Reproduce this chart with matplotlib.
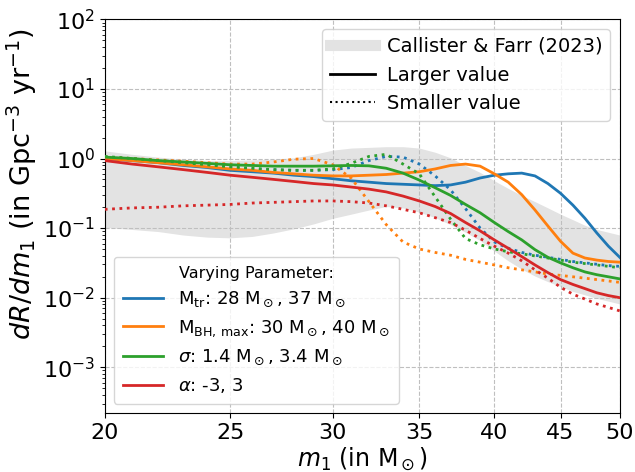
import numpy as np
import matplotlib
matplotlib.use("Agg")
import matplotlib.pyplot as plt
from matplotlib.lines import Line2D
from matplotlib.ticker import FixedLocator, NullLocator, FixedFormatter

# primary mass grid (M_sun)
m1 = np.arange(20, 51)

# log10 of dR/dm1, one value per m1
blue_hi = [0.00, -0.03, -0.06, -0.10, -0.13, -0.17, -0.19, -0.21, -0.24, -0.26, -0.29,
           -0.32, -0.34, -0.36, -0.37, -0.38, -0.39, -0.38, -0.34, -0.28, -0.24,
           -0.22, -0.21, -0.25, -0.36, -0.50, -0.67, -0.86, -1.07, -1.26, -1.42]
blue_lo = [0.02, -0.01, -0.04, -0.07, -0.10, -0.13, -0.15, -0.16, -0.17, -0.17, -0.16,
           -0.13, -0.03, 0.03, 0.02, -0.08, -0.25, -0.45, -0.72, -1.00, -1.20,
           -1.29, -1.35, -1.39, -1.42, -1.45, -1.48, -1.50, -1.52, -1.54, -1.55]
orange_hi = [0.00, -0.03, -0.06, -0.09, -0.12, -0.15, -0.17, -0.20, -0.22, -0.24, -0.25,
             -0.25, -0.24, -0.23, -0.21, -0.19, -0.15, -0.10, -0.08, -0.11, -0.22,
             -0.34, -0.52, -0.74, -0.97, -1.19, -1.36, -1.43, -1.46, -1.48, -1.49]
orange_lo = [0.02, 0.00, -0.02, -0.04, -0.06, -0.08, -0.08, -0.05, -0.01, 0.00, -0.09,
             -0.28, -0.62, -0.95, -1.20, -1.30, -1.35, -1.39, -1.45, -1.49, -1.53,
             -1.57, -1.60, -1.63, -1.66, -1.68, -1.70, -1.72, -1.74, -1.76, -1.78]
green_hi = [0.02, 0.00, -0.03, -0.05, -0.07, -0.09, -0.10, -0.11, -0.11, -0.11, -0.105,
            -0.10, -0.105, -0.14, -0.21, -0.31, -0.42, -0.53, -0.66, -0.78, -0.92,
            -1.05, -1.17, -1.31, -1.42, -1.50, -1.57, -1.63, -1.67, -1.70, -1.73]
green_lo = [0.03, 0.00, -0.03, -0.06, -0.09, -0.12, -0.14, -0.16, -0.17, -0.17, -0.15,
            -0.07, 0.03, 0.06, -0.08, -0.22, -0.55, -0.87, -1.15, -1.24, -1.30,
            -1.34, -1.37, -1.40, -1.43, -1.46, -1.49, -1.51, -1.53, -1.55, -1.57]
red_hi = [-0.03, -0.08, -0.12, -0.16, -0.20, -0.24, -0.27, -0.30, -0.33, -0.36, -0.38,
          -0.41, -0.44, -0.48, -0.54, -0.61, -0.69, -0.79, -0.92, -1.04, -1.17,
          -1.29, -1.41, -1.53, -1.64, -1.74, -1.81, -1.87, -1.93, -1.97, -2.00]
red_lo = [-0.73, -0.71, -0.70, -0.68, -0.67, -0.66, -0.64, -0.63, -0.62, -0.61, -0.61,
          -0.62, -0.64, -0.68, -0.73, -0.78, -0.85, -0.92, -1.03, -1.15, -1.26,
          -1.36, -1.47, -1.60, -1.72, -1.85, -1.95, -2.02, -2.09, -2.14, -2.19]

# Callister & Farr (2023) band, log10
band_up = [0.11, 0.06, 0.02, -0.01, -0.03, -0.03, -0.02, -0.01, 0.01, 0.06, 0.12,
           0.15, 0.16, 0.17, 0.17, 0.15, 0.09, 0.01, -0.10, -0.20, -0.32,
           -0.43, -0.53, -0.62, -0.71, -0.80, -0.88, -0.96, -1.02, -1.06, -1.10]
band_low = [-0.99, -1.02, -1.05, -1.10, -1.13, -1.14, -1.12, -1.07, -1.01, -0.94, -0.86,
            -0.80, -0.74, -0.69, -0.71, -0.77, -0.85, -0.95, -1.06, -1.18, -1.33,
            -1.47, -1.59, -1.69, -1.77, -1.84, -1.91, -1.96, -2.01, -2.05, -2.09]

labels = [r"M$_{\rm tr}$: 28 M$_\odot$, 37 M$_\odot$",
          r"M$_{\rm BH,\,max}$: 30 M$_\odot$, 40 M$_\odot$",
          r"$\sigma$: 1.4 M$_\odot$, 3.4 M$_\odot$",
          r"$\alpha$: -3, 3"]
colors = ["tab:blue", "tab:orange", "tab:green", "tab:red"]
hi_sets = [blue_hi, orange_hi, green_hi, red_hi]
lo_sets = [blue_lo, orange_lo, green_lo, red_lo]

xticks = [20, 25, 30, 35, 40, 45, 50]
band_color = "#e3e3e3"

fig = plt.figure(figsize=(6.35, 4.72), dpi=100)
ax = fig.add_axes([0.165, 0.125, 0.811, 0.834])

ax.fill_between(m1, 10 ** np.array(band_low), 10 ** np.array(band_up),
                color=band_color, lw=0, zorder=1)

for c, hi, lo in zip(colors, hi_sets, lo_sets):
    ax.plot(m1, 10 ** np.array(hi), color=c, lw=2, zorder=3)
    ax.plot(m1, 10 ** np.array(lo), color=c, lw=2, ls=":", zorder=3)

ax.set_xscale("log")
ax.set_yscale("log")
ax.set_xlim(20, 50)
ax.set_ylim(2.2e-4, 1e2)
ax.xaxis.set_major_locator(FixedLocator(xticks))
ax.xaxis.set_major_formatter(FixedFormatter([str(t) for t in xticks]))
ax.xaxis.set_minor_locator(NullLocator())
ax.tick_params(axis="both", which="major", labelsize=16)
ax.grid(True, which="major", ls="--", color="0.75", lw=0.8)

ax.set_xlabel(r"$m_1$ (in M$_\odot$)", fontsize=17, labelpad=2)
ax.set_ylabel(r"$dR/dm_1$ (in Gpc$^{-3}$ yr$^{-1}$)", fontsize=19.5)
ax.yaxis.set_label_coords(-0.127, 0.58)

# legend for line styles
style_handles = [Line2D([], [], color=band_color, lw=8),
                 Line2D([], [], color="k", lw=2),
                 Line2D([], [], color="k", lw=1.5, ls=":")]
leg1 = ax.legend(style_handles, ["Callister & Farr (2023)", "Larger value", "Smaller value"],
                 loc="upper right", fontsize=14, handlelength=2.3, handletextpad=0.6)
ax.add_artist(leg1)

color_handles = [Line2D([], [], color=c, lw=2) for c in colors]
ax.legend(color_handles, labels, loc="lower left", fontsize=13,
          handlelength=2.2, handletextpad=0.85, borderpad=0.5,
          title="Varying Parameter:", title_fontsize=11.5)

fig.savefig("out.png", dpi=100)
